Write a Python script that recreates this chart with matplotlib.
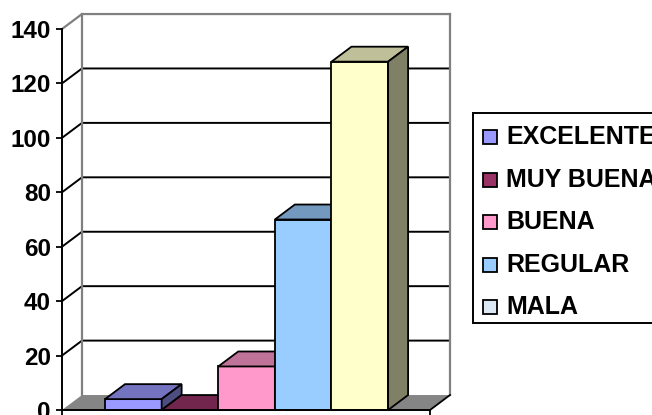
import matplotlib
matplotlib.use("Agg")
import matplotlib.pyplot as plt
from matplotlib.patches import Polygon, Rectangle
from matplotlib.lines import Line2D

plt.rcParams['font.family'] = ['Liberation Sans', 'DejaVu Sans']
plt.rcParams['font.weight'] = 'bold'

# Survey ratings and counts
categories = ["EXCELENTE", "MUY BUENA", "BUENA", "REGULAR", "MALA"]
values = [4, 0, 16, 70, 128]
y_ticks = [0, 20, 40, 60, 80, 100, 120, 140]

front_colors = ["#9999FF", "#993366", "#FF99CC", "#99CCFF", "#FFFFCC"]
top_colors = ["#7373BF", "#73264D", "#BF7399", "#7399BF", "#BFBF99"]
side_colors = ["#4D4D80", "#4D1A33", "#804D66", "#4D6680", "#808066"]
legend_colors = ["#9999FF", "#993366", "#FF99CC", "#99CCFF", "#DDE8F5"]

W, H = 652, 415
fig = plt.figure(figsize=(W / 100, H / 100), dpi=100)
ax = fig.add_axes([62 / W, 5 / H, 368 / W, 381 / H])

xmin, xmax = -1.26, 5.24
ymax = 140
dx, dy = 0.353, 5.5  # oblique depth offset in data units
ax.set_xlim(xmin, xmax)
ax.set_ylim(0, ymax)
ax.patch.set_visible(False)

# Back wall gridlines with their diagonal run on the left side
for t in y_ticks[1:]:
    col = "#808080" if t == ymax else "black"
    lw = 1.6 if t == ymax else 1.4
    ax.add_line(Line2D([xmin, xmin + dx, xmax + dx], [t, t + dy, t + dy],
                       color=col, lw=lw, clip_on=False, zorder=1))
for xe in (xmin + dx, xmax + dx):
    ax.add_line(Line2D([xe, xe], [dy, ymax + dy], color="#808080", lw=1.6,
                       clip_on=False, zorder=1))

# Floor
ax.add_patch(Polygon([(xmin, 0), (xmax, 0), (xmax + dx, dy), (xmin + dx, dy)],
                     closed=True, facecolor="#858585", edgecolor="none",
                     clip_on=False, zorder=2))
ax.add_line(Line2D([xmax, xmax + dx], [0, dy], color="black", lw=1.3,
                   clip_on=False, zorder=2))

# Bars: front face, top face, right side face
xs = list(range(len(values)))
for i, (x, v) in enumerate(zip(xs, values)):
    z = 3 + i
    ax.bar(x, v, width=1.0, color=front_colors[i], edgecolor="black",
           linewidth=1.3, zorder=z, clip_on=False)
    ax.add_patch(Polygon([(x - 0.5, v), (x + 0.5, v), (x + 0.5 + dx, v + dy),
                          (x - 0.5 + dx, v + dy)], closed=True,
                         facecolor=top_colors[i], edgecolor="black", lw=1.3,
                         clip_on=False, zorder=z))
    if v > 0:
        ax.add_patch(Polygon([(x + 0.5, 0), (x + 0.5, v), (x + 0.5 + dx, v + dy),
                              (x + 0.5 + dx, dy)], closed=True,
                             facecolor=side_colors[i], edgecolor="black", lw=1.3,
                             clip_on=False, zorder=z))

# Axes styling
for s in ("top", "right"):
    ax.spines[s].set_visible(False)
ax.spines["left"].set_linewidth(1.4)
ax.spines["bottom"].set_linewidth(1.4)
ax.spines["left"].set_zorder(20)
ax.spines["bottom"].set_zorder(20)
ax.set_yticks(y_ticks)
ax.set_yticklabels([str(t) for t in y_ticks])
ax.tick_params(axis="y", direction="out", length=4, width=1.3, pad=4,
               labelsize=17.5)
ax.set_xticks([xmin, xmax])
ax.set_xticklabels([])
ax.tick_params(axis="x", direction="out", length=4, width=1.3)
for lab in ax.get_yticklabels():
    lab.set_fontweight("bold")

# Legend box
tf = fig.transFigure
fig.add_artist(Rectangle((473 / W, 1 - 323 / H), 200 / W, 210 / H,
                         transform=tf, facecolor="white", edgecolor="black",
                         lw=1.4, clip_on=False, zorder=30))
row_y = [137, 180, 222, 265, 307]
for i, name in enumerate(categories):
    yc = row_y[i]
    fig.add_artist(Rectangle((483 / W, 1 - (yc + 7) / H), 14 / W, 14 / H,
                             transform=tf, facecolor=legend_colors[i],
                             edgecolor="black", lw=1.3, zorder=31))
    fig.text(506 / W, 1 - yc / H, name, fontsize=18, fontweight="bold",
             va="center", ha="left", zorder=32)

fig.savefig("out.png", dpi=100)
